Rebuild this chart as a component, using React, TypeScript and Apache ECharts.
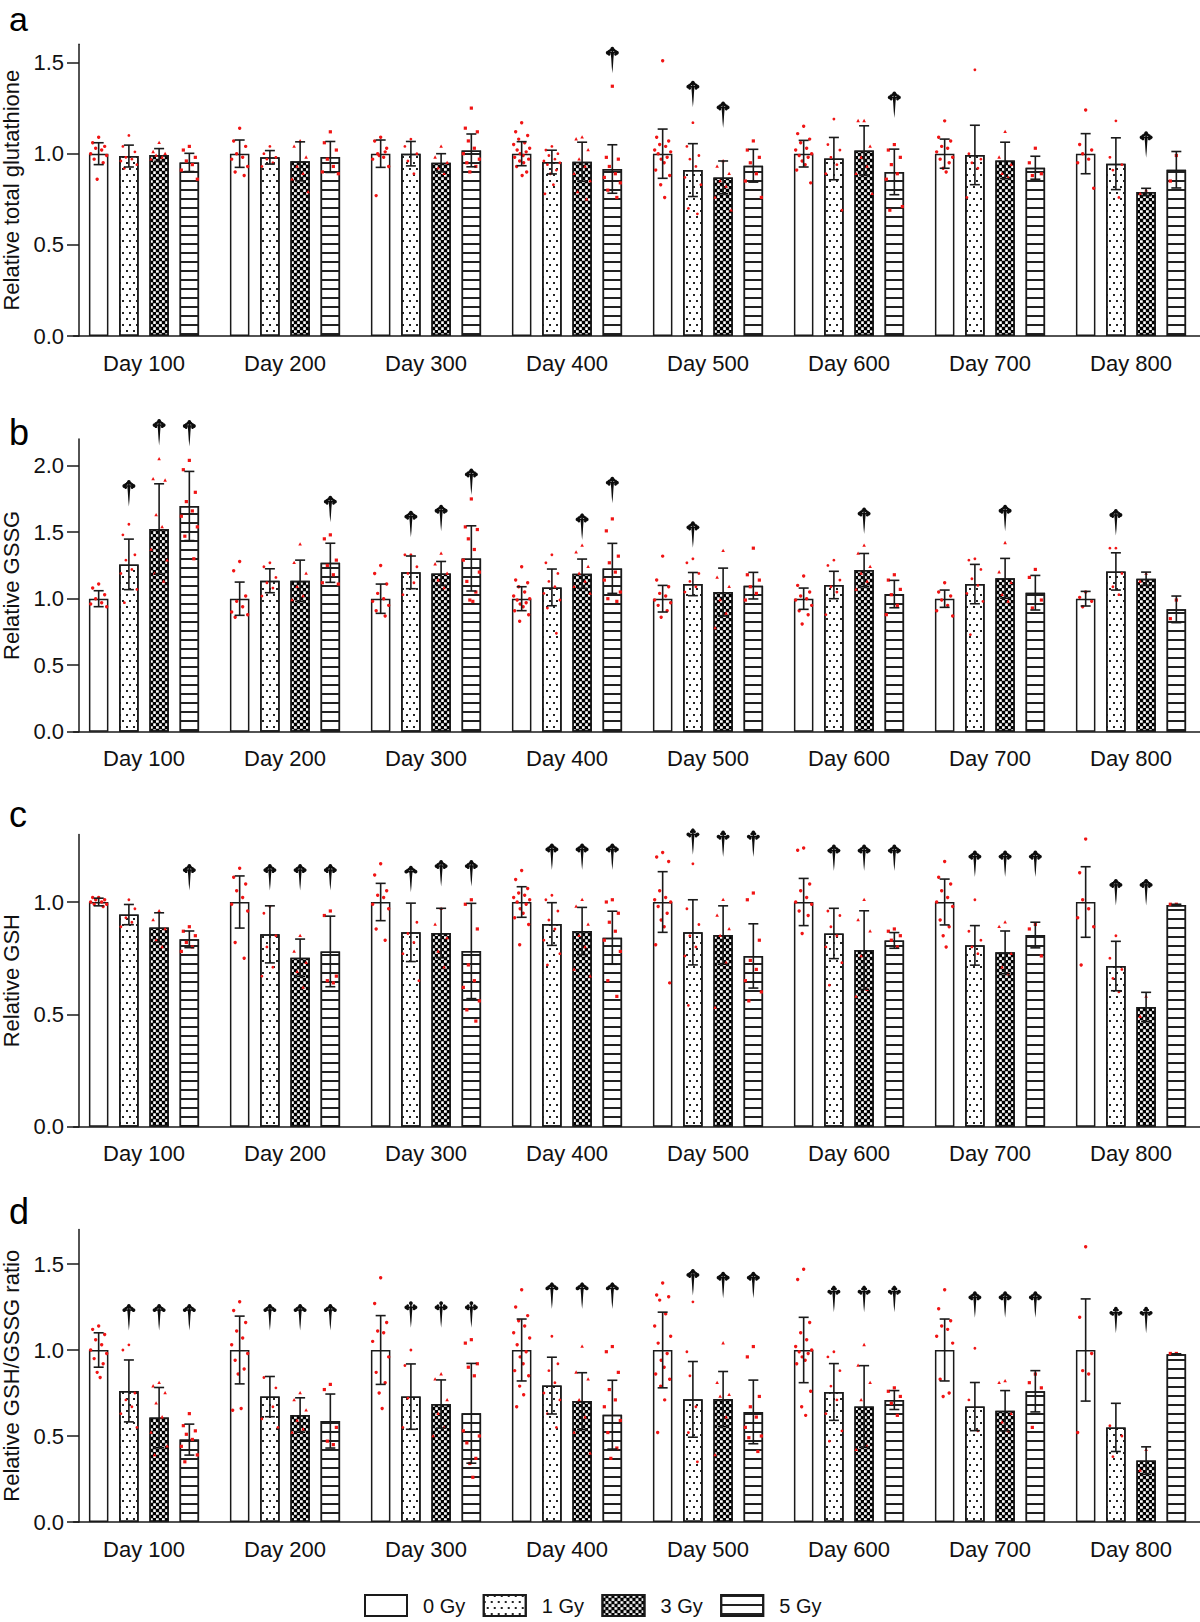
import React, { useEffect, useRef } from "react";
import * as echarts from "echarts";

// ---------------- data ----------------
const days = ["Day 100", "Day 200", "Day 300", "Day 400", "Day 500", "Day 600", "Day 700", "Day 800"];
const doses = ["0 Gy", "1 Gy", "3 Gy", "5 Gy"];

// Panel a: relative total glutathione (mean / SD per dose, 8 days)
const aMean = [
  [1.0, 1.0, 1.0, 1.0, 1.0, 1.0, 1.0, 1.0],
  [0.987, 0.98, 1.0, 0.954, 0.91, 0.973, 0.993, 0.945],
  [0.993, 0.958, 0.95, 0.956, 0.87, 1.018, 0.963, 0.79],
  [0.952, 0.982, 1.018, 0.916, 0.934, 0.9, 0.923, 0.912],
];
const aSD = [
  [0.06, 0.075, 0.075, 0.066, 0.135, 0.073, 0.08, 0.11],
  [0.06, 0.037, 0.067, 0.065, 0.145, 0.116, 0.163, 0.142],
  [0.035, 0.107, 0.05, 0.107, 0.09, 0.135, 0.1, 0.02],
  [0.05, 0.085, 0.09, 0.133, 0.09, 0.125, 0.063, 0.1],
];
const aDots = [
  [
    [1.09, 1.06, 1.04, 1.03, 1.02, 1.0, 0.99, 0.97, 0.95, 0.86],
    [1.14, 1.07, 1.04, 1.0, 0.98, 0.97, 0.93, 0.9, 0.88],
    [1.09, 1.07, 1.03, 1.0, 0.98, 0.97, 0.93, 0.77, 1.01, 0.99],
    [1.17, 1.12, 1.1, 1.08, 1.06, 1.05, 1.03, 1.02, 1.01, 1.0, 0.99, 0.98, 0.97, 0.96, 0.95, 0.93, 0.9, 0.88],
    [1.51, 1.09, 1.07, 1.05, 1.04, 1.02, 1.01, 1.0, 0.98, 0.97, 0.95, 0.91, 0.88, 0.83, 0.76],
    [1.15, 1.11, 1.08, 1.06, 1.03, 1.02, 1.0, 0.99, 0.98, 0.96, 0.94, 0.91, 0.84],
    [1.18, 1.09, 1.07, 1.04, 1.03, 1.01, 0.98, 0.97, 0.95, 0.92, 0.9],
    [1.24, 1.05, 1.02, 1.0, 0.97, 0.95, 0.81],
  ],
  [
    [1.1, 1.04, 1.01, 0.98, 0.97, 0.96, 0.94, 0.92],
    [1.04, 1.0, 0.98, 0.97, 0.95, 0.93],
    [1.08, 1.04, 1.0, 0.96, 0.89],
    [1.04, 1.02, 1.0, 0.99, 0.97, 0.96, 0.95, 0.94, 0.91, 0.89, 0.83, 0.78],
    [1.17, 1.04, 0.99, 0.97, 0.93, 0.87, 0.83, 0.7, 0.67],
    [1.19, 1.05, 1.02, 0.98, 0.94, 0.89, 0.69],
    [1.46, 1.0, 0.97, 0.95, 0.92, 0.76],
    [1.18, 0.98, 0.94, 0.91, 0.76],
  ],
  [
    [1.06, 1.01, 1.0, 0.99, 0.98, 0.97],
    [1.07, 1.04, 0.98, 0.93, 0.89, 0.86, 0.79],
    [1.04, 0.98, 0.95, 0.92, 0.89],
    [1.09, 1.08, 1.02, 0.97, 0.93, 0.89, 0.85, 0.79, 0.75],
    [0.96, 0.93, 0.89, 0.85, 0.82, 0.76, 0.69],
    [1.18, 1.18, 1.04, 0.98, 0.93, 0.89, 0.78],
    [1.12, 0.98, 0.94, 0.89, 0.87],
    [0.8, 0.78],
  ],
  [
    [1.04, 1.02, 0.98, 0.96, 0.94, 0.91, 0.86],
    [1.12, 1.06, 1.02, 0.97, 0.93, 0.9, 0.89],
    [1.25, 1.14, 1.12, 1.07, 1.03, 1.0, 0.97, 0.95, 0.93, 0.9],
    [1.37, 0.98, 0.97, 0.93, 0.89, 0.87, 0.84, 0.8, 0.76],
    [1.07, 1.02, 0.98, 0.95, 0.89, 0.85, 0.76],
    [1.05, 1.02, 0.98, 0.94, 0.89, 0.86, 0.71, 0.69],
    [1.03, 0.95, 0.89, 0.88],
    [0.99, 0.85],
  ],
];
// [day index, dose index, y of the dagger tip]
const aDaggers = [[3, 3, 1.444], [4, 1, 1.258], [4, 2, 1.144], [5, 3, 1.199], [7, 2, 0.98]];

// Panel b: relative GSSG
const bMean = [
  [1.0, 1.0, 1.0, 1.0, 1.0, 1.0, 1.0, 1.0],
  [1.258, 1.135, 1.198, 1.085, 1.11, 1.103, 1.11, 1.205],
  [1.524, 1.135, 1.19, 1.188, 1.05, 1.215, 1.153, 1.15],
  [1.697, 1.27, 1.303, 1.228, 1.098, 1.035, 1.045, 0.92],
];
const bSD = [
  [0.06, 0.125, 0.11, 0.09, 0.1, 0.08, 0.065, 0.055],
  [0.19, 0.09, 0.123, 0.138, 0.087, 0.103, 0.148, 0.14],
  [0.34, 0.155, 0.09, 0.11, 0.18, 0.125, 0.15, 0.05],
  [0.26, 0.147, 0.245, 0.188, 0.1, 0.103, 0.13, 0.1],
];
const bDots = [
  [
    [1.11, 1.08, 1.03, 1.0, 0.97, 0.96, 0.94],
    [1.28, 1.21, 1.02, 0.98, 0.94, 0.9, 0.88, 0.86],
    [1.25, 1.19, 1.11, 1.04, 1.0, 0.98, 0.95, 0.91, 0.87],
    [1.24, 1.14, 1.12, 1.09, 1.05, 1.02, 1.0, 0.99, 0.97, 0.96, 0.94, 0.91, 0.88, 0.83],
    [1.32, 1.14, 1.09, 1.04, 1.02, 0.99, 0.97, 0.95, 0.91, 0.86],
    [1.17, 1.1, 1.05, 1.02, 1.0, 0.99, 0.95, 0.91, 0.88, 0.81],
    [1.12, 1.05, 1.02, 0.99, 0.95, 0.91, 0.87],
    [1.05, 1.01, 0.98, 0.94],
  ],
  [
    [1.56, 1.48, 1.33, 1.29, 1.22, 1.19, 1.07, 0.97],
    [1.27, 1.24, 1.16, 1.12, 1.08, 1.02],
    [1.33, 1.33, 1.24, 1.19, 1.12, 1.03],
    [1.33, 1.27, 1.19, 1.13, 1.09, 1.04, 0.99, 0.93, 0.74],
    [1.3, 1.27, 1.19, 1.13, 1.09, 1.05],
    [1.29, 1.25, 1.14, 1.09, 1.05, 0.88],
    [1.3, 1.29, 1.22, 1.15, 1.1, 1.04, 0.98, 0.73],
    [1.38, 1.38, 1.19, 1.09, 1.03],
  ],
  [
    [2.05, 1.9, 1.89, 1.63, 1.54, 1.37, 1.29, 1.19, 1.13],
    [1.41, 1.27, 1.19, 1.09, 1.02, 0.99],
    [1.34, 1.26, 1.19, 1.14, 1.08],
    [1.4, 1.35, 1.24, 1.19, 1.13, 1.09, 1.04],
    [1.36, 1.16, 1.09, 0.99, 0.89, 0.78],
    [1.4, 1.34, 1.24, 1.19, 1.13, 1.07],
    [1.42, 1.2, 1.12, 1.03, 0.98],
    [1.19, 1.13],
  ],
  [
    [2.04, 1.97, 1.8, 1.73, 1.66, 1.62, 1.54, 1.47, 1.3],
    [1.48, 1.45, 1.29, 1.25, 1.18, 1.12, 1.11],
    [1.75, 1.54, 1.52, 1.45, 1.37, 1.29, 1.2, 1.13, 1.05, 0.99, 0.98],
    [1.6, 1.51, 1.32, 1.27, 1.2, 1.14, 1.05, 1.0, 0.98],
    [1.38, 1.18, 1.14, 1.09, 1.04, 0.99],
    [1.18, 1.14, 1.07, 1.03, 0.95, 0.88],
    [1.22, 1.16, 0.99, 0.93],
    [0.99, 0.85],
  ],
];
const bDaggers = [
  [0, 1, 1.697], [0, 2, 2.155], [0, 3, 2.148], [1, 3, 1.579], [2, 1, 1.466], [2, 2, 1.511], [2, 3, 1.784],
  [3, 2, 1.446], [3, 3, 1.722], [4, 1, 1.386], [5, 2, 1.49], [6, 2, 1.511], [7, 1, 1.479],
];

// Panel c: relative GSH
const cMean = [
  [1.0, 1.0, 1.0, 1.0, 1.0, 1.0, 1.0, 1.0],
  [0.944, 0.856, 0.865, 0.902, 0.865, 0.86, 0.807, 0.715],
  [0.887, 0.752, 0.862, 0.871, 0.853, 0.786, 0.776, 0.533],
  [0.834, 0.78, 0.782, 0.841, 0.76, 0.829, 0.853, 0.987],
];
const cSD = [
  [0.017, 0.116, 0.083, 0.068, 0.135, 0.105, 0.102, 0.157],
  [0.045, 0.127, 0.13, 0.095, 0.145, 0.112, 0.088, 0.11],
  [0.065, 0.083, 0.11, 0.105, 0.13, 0.175, 0.095, 0.065],
  [0.037, 0.157, 0.212, 0.118, 0.143, 0.035, 0.057, 0.003],
];
const cDots = [
  [
    [1.02, 1.02, 1.01, 1.01, 1.0, 1.0, 0.99, 0.99, 0.98],
    [1.15, 1.11, 1.08, 1.05, 1.02, 0.99, 0.96, 0.82, 0.75],
    [1.17, 1.12, 1.05, 1.03, 1.02, 0.99, 0.97, 0.88, 0.83],
    [1.14, 1.1, 1.06, 1.04, 1.03, 1.02, 1.01, 1.0, 0.99, 0.97, 0.95, 0.93, 0.9, 0.81],
    [1.22, 1.2, 1.18, 1.05, 1.02, 1.01, 1.0, 0.98, 0.95, 0.92, 0.89, 0.81, 0.64],
    [1.24, 1.23, 1.08, 1.05, 1.02, 1.0, 0.99, 0.96, 0.94, 0.86, 0.77],
    [1.18, 1.11, 1.08, 1.05, 1.02, 1.0, 0.98, 0.92, 0.89, 0.85, 0.8],
    [1.28, 1.13, 1.07, 1.01, 0.97, 0.93, 0.89, 0.72],
  ],
  [
    [1.01, 0.99, 0.97, 0.93, 0.91, 0.89],
    [0.98, 0.95, 0.85, 0.8, 0.71, 0.67],
    [1.0, 0.99, 0.91, 0.86, 0.82, 0.77, 0.65],
    [1.03, 1.01, 0.96, 0.92, 0.88, 0.83, 0.77, 0.72],
    [1.17, 0.97, 0.9, 0.85, 0.8, 0.76, 0.68, 0.54],
    [1.0, 0.96, 0.94, 0.89, 0.85, 0.8, 0.73, 0.63],
    [1.01, 0.87, 0.83, 0.8, 0.77, 0.68],
    [0.85, 0.75, 0.7, 0.66, 0.6],
  ],
  [
    [0.96, 0.92, 0.88, 0.83, 0.8],
    [0.85, 0.78, 0.73, 0.69, 0.62],
    [0.97, 0.9, 0.84, 0.78, 0.71],
    [1.01, 0.98, 0.9, 0.85, 0.8, 0.7, 0.67],
    [1.01, 0.94, 0.88, 0.85, 0.73, 0.53],
    [1.01, 0.92, 0.87, 0.76, 0.61, 0.58],
    [0.91, 0.89, 0.77, 0.71, 0.68],
    [0.58, 0.49],
  ],
  [
    [0.89, 0.87, 0.85, 0.82, 0.8, 0.78],
    [0.96, 0.94, 0.67, 0.65, 0.64],
    [1.01, 0.99, 0.88, 0.72, 0.65, 0.62, 0.56, 0.52, 0.47],
    [1.01, 1.0, 0.95, 0.91, 0.87, 0.83, 0.78, 0.65, 0.58],
    [1.04, 1.01, 0.83, 0.74, 0.7, 0.65, 0.6, 0.56],
    [0.88, 0.87, 0.85, 0.83, 0.8],
    [0.9, 0.88, 0.76],
    [0.99, 0.99],
  ],
];
const cDaggers = [
  [0, 3, 1.053], [1, 1, 1.053], [1, 2, 1.053], [1, 3, 1.053], [2, 1, 1.046], [2, 2, 1.071], [2, 3, 1.071],
  [3, 1, 1.145], [3, 2, 1.145], [3, 3, 1.145], [4, 1, 1.212], [4, 2, 1.202], [4, 3, 1.202],
  [5, 1, 1.14], [5, 2, 1.14], [5, 3, 1.14], [6, 1, 1.113], [6, 2, 1.113], [6, 3, 1.113], [7, 1, 0.987], [7, 2, 0.987],
];

// Panel d: relative GSH/GSSG ratio
const dMean = [
  [1.0, 1.0, 1.0, 1.0, 1.0, 1.0, 1.0, 1.0],
  [0.762, 0.729, 0.729, 0.793, 0.713, 0.756, 0.671, 0.55],
  [0.607, 0.622, 0.686, 0.703, 0.715, 0.672, 0.647, 0.357],
  [0.479, 0.587, 0.632, 0.624, 0.64, 0.709, 0.76, 0.975],
];
const dSD = [
  [0.1, 0.197, 0.2, 0.18, 0.22, 0.19, 0.18, 0.297],
  [0.18, 0.117, 0.19, 0.165, 0.22, 0.165, 0.14, 0.14],
  [0.175, 0.1, 0.14, 0.165, 0.16, 0.237, 0.117, 0.08],
  [0.09, 0.157, 0.29, 0.2, 0.185, 0.055, 0.12, 0.003],
];
const dDots = [
  [
    [1.14, 1.12, 1.09, 1.06, 1.03, 1.0, 0.98, 0.95, 0.92, 0.87, 0.84],
    [1.28, 1.23, 1.16, 1.11, 1.07, 1.03, 0.98, 0.94, 0.89, 0.86, 0.66, 0.65],
    [1.42, 1.27, 1.16, 1.11, 1.1, 1.05, 0.96, 0.87, 0.81, 0.75, 0.66],
    [1.35, 1.25, 1.2, 1.17, 1.14, 1.1, 1.07, 1.03, 0.99, 0.96, 0.92, 0.88, 0.85, 0.79, 0.74, 0.67],
    [1.39, 1.32, 1.31, 1.29, 1.21, 1.14, 1.08, 1.04, 0.98, 0.94, 0.9, 0.86, 0.83, 0.79, 0.71, 0.52],
    [1.47, 1.41, 1.16, 1.1, 1.06, 1.02, 1.0, 0.99, 0.98, 0.96, 0.94, 0.92, 0.76, 0.67, 0.62],
    [1.35, 1.24, 1.17, 1.14, 1.12, 1.08, 1.04, 0.83, 0.75, 0.73],
    [1.6, 1.19, 0.98, 0.88, 0.86, 0.52],
  ],
  [
    [1.03, 1.0, 0.75, 0.71, 0.67, 0.63, 0.55],
    [0.9, 0.84, 0.78, 0.73, 0.67, 0.6, 0.55],
    [1.0, 0.91, 0.9, 0.72, 0.61, 0.55, 0.46],
    [1.08, 0.98, 0.92, 0.88, 0.81, 0.75, 0.71, 0.63, 0.55],
    [1.28, 0.99, 0.9, 0.85, 0.67, 0.61, 0.57, 0.52, 0.35],
    [0.99, 0.96, 0.88, 0.79, 0.71, 0.63, 0.53, 0.47],
    [1.01, 0.71, 0.69, 0.65, 0.53, 0.46],
    [0.73, 0.56, 0.5, 0.38],
  ],
  [
    [0.81, 0.79, 0.75, 0.69, 0.61, 0.52, 0.44, 0.39],
    [0.75, 0.71, 0.65, 0.59, 0.54, 0.52],
    [0.86, 0.83, 0.71, 0.63, 0.55, 0.5],
    [1.02, 0.87, 0.83, 0.71, 0.61, 0.52, 0.4],
    [1.04, 0.81, 0.74, 0.73, 0.61, 0.39],
    [1.03, 0.91, 0.81, 0.71, 0.44, 0.42],
    [0.82, 0.81, 0.63, 0.58, 0.53],
    [0.42, 0.3],
  ],
  [
    [0.63, 0.56, 0.53, 0.51, 0.48, 0.44, 0.39, 0.35],
    [0.8, 0.77, 0.55, 0.47, 0.45],
    [1.06, 1.04, 0.92, 0.9, 0.85, 0.53, 0.5, 0.46, 0.37, 0.34, 0.26],
    [1.02, 0.99, 0.87, 0.77, 0.71, 0.67, 0.59, 0.52, 0.43, 0.37],
    [1.02, 0.96, 0.73, 0.67, 0.61, 0.55, 0.5, 0.49, 0.41],
    [0.78, 0.76, 0.73, 0.69, 0.62],
    [0.86, 0.81, 0.78, 0.55],
    [0.98, 0.98],
  ],
];
const dDaggers = [
  [0, 1, 1.116], [0, 2, 1.116], [0, 3, 1.116], [1, 1, 1.116], [1, 2, 1.116], [1, 3, 1.116],
  [2, 1, 1.132], [2, 2, 1.132], [2, 3, 1.132], [3, 1, 1.242], [3, 2, 1.242], [3, 3, 1.242],
  [4, 1, 1.32], [4, 2, 1.304], [4, 3, 1.304], [5, 1, 1.223], [5, 2, 1.223], [5, 3, 1.223],
  [6, 1, 1.19], [6, 2, 1.19], [6, 3, 1.19], [7, 1, 1.1], [7, 2, 1.1],
];

const yTicksA = [0, 0.5, 1, 1.5];
const yTicksB = [0, 0.5, 1, 1.5, 2];
const yTicksC = [0, 0.5, 1];
const yTicksD = [0, 0.5, 1, 1.5];

// ---------------- layout / style ----------------
const FONT = "'Liberation Sans', Arial, Helvetica, sans-serif";
const INK = "#1a1a1a";
const RED = "#f01414";
const BAR_W = 19.5;
const STEP = BAR_W * 1.55;
const JITTER = [0, -6, 6, -3, 3, -8, 8, -4.5, 4.5, -1.5, 1.5, -7, 7, -2, 2, -5, 5, 0.5];

const panels = [
  { letter: "a", name: "Relative total glutathione", max: 1.6, ticks: yTicksA, top: 44.3, height: 291.7, mean: aMean, sd: aSD, dots: aDots, daggers: aDaggers, letterTop: 2 },
  { letter: "b", name: "Relative GSSG", max: 2.2, ticks: yTicksB, top: 439.1, height: 292.6, mean: bMean, sd: bSD, dots: bDots, daggers: bDaggers, letterTop: 414 },
  { letter: "c", name: "Relative GSH", max: 1.3, ticks: yTicksC, top: 834.6, height: 292.1, mean: cMean, sd: cSD, dots: cDots, daggers: cDaggers, letterTop: 796 },
  { letter: "d", name: "Relative GSH/GSSG ratio", max: 1.7, ticks: yTicksD, top: 1229.6, height: 292.4, mean: dMean, sd: dSD, dots: dDots, daggers: dDaggers, letterTop: 1193 },
];

const DECALS: any[] = [
  null,
  { symbol: "rect", symbolSize: 1, color: "#222222", backgroundColor: "#ffffff", dashArrayX: [[1.3, 4.7], [0, 3, 1.3, 1.7]], dashArrayY: [1.3, 3.2] },
  { symbol: "rect", symbolSize: 1.15, color: "#000000", backgroundColor: "#ffffff", dashArrayX: [[3, 3], [0, 3, 3, 0]], dashArrayY: [3, 0] },
  { symbol: "rect", symbolSize: 1, color: "#222222", backgroundColor: "#ffffff", dashArrayX: [1, 0], dashArrayY: [2, 7] },
];

// dagger (cross with trefoil ends and long tapered stem), local box 13 x 26
const DAGGER_CIRCLES = [
  [6.5, 1.9, 1.9], [4.9, 3.3, 1.4], [8.1, 3.3, 1.4],
  [1.9, 6, 1.9], [3.3, 4.4, 1.4], [3.3, 7.6, 1.4],
  [11.1, 6, 1.9], [9.7, 4.4, 1.4], [9.7, 7.6, 1.4],
];
const DAGGER_STEM = [[4.9, 6.2], [8.1, 6.2], [7.6, 12], [7.1, 20], [6.5, 26.5], [5.9, 20], [5.4, 12]];

function renderDot(params: any, api: any) {
  const di = api.value(0);
  const v = api.value(1);
  const k = api.value(2);
  const j = api.value(3);
  const pt = api.coord([di, v]);
  const x = pt[0] + (k - 1.5) * STEP + JITTER[j % JITTER.length];
  const y = pt[1];
  const style = { fill: RED };
  if (k === 0) return { type: "circle", shape: { cx: x, cy: y, r: 1.7 }, style };
  if (k === 1) return { type: "circle", shape: { cx: x, cy: y, r: 1.4 }, style };
  if (k === 2) return { type: "polygon", shape: { points: [[x, y - 2], [x + 1.8, y + 1.3], [x - 1.8, y + 1.3]] }, style };
  return { type: "rect", shape: { x: x - 1.6, y: y - 1.6, width: 3.2, height: 3.2 }, style };
}

function renderErr(params: any, api: any) {
  const di = api.value(0);
  const m = api.value(1);
  const s = api.value(2);
  const k = api.value(3);
  const t = api.coord([di, m + s]);
  const b = api.coord([di, m - s]);
  const x = t[0] + (k - 1.5) * STEP;
  const st = { stroke: INK, lineWidth: 1.6 };
  return {
    type: "group",
    children: [
      { type: "line", shape: { x1: x, y1: t[1], x2: x, y2: b[1] }, style: st },
      { type: "line", shape: { x1: x - 5, y1: t[1], x2: x + 5, y2: t[1] }, style: st },
      { type: "line", shape: { x1: x - 5, y1: b[1], x2: x + 5, y2: b[1] }, style: st },
    ],
  };
}

function renderDagger(params: any, api: any) {
  const di = api.value(0);
  const k = api.value(1);
  const tip = api.value(2);
  const pt = api.coord([di, tip]);
  const x0 = pt[0] + (k - 1.5) * STEP - 6.5;
  const y0 = pt[1] - 26;
  const fill = { fill: "#0d0d0d" };
  const children: any[] = DAGGER_CIRCLES.map((c) => ({
    type: "circle",
    shape: { cx: x0 + c[0], cy: y0 + c[1], r: c[2] },
    style: fill,
  }));
  children.push({ type: "rect", shape: { x: x0 + 2.5, y: y0 + 5.2, width: 8, height: 1.6 }, style: fill });
  children.push({ type: "rect", shape: { x: x0 + 5.7, y: y0 + 2.5, width: 1.6, height: 5.5 }, style: fill });
  children.push({
    type: "polygon",
    shape: { points: DAGGER_STEM.map((p) => [x0 + p[0], y0 + p[1]]) },
    style: fill,
  });
  return { type: "group", children };
}

function buildOption() {
  const grid: any[] = [];
  const xAxis: any[] = [];
  const yAxis: any[] = [];
  const series: any[] = [];
  const graphic: any[] = [];

  panels.forEach((p, gi) => {
    grid.push({ left: 73.5, width: 1128, top: p.top, height: p.height, containLabel: false, outerBoundsMode: "none" });
    xAxis.push({
      type: "category",
      gridIndex: gi,
      data: days,
      axisLine: { lineStyle: { color: INK, width: 1.5 } },
      axisTick: { alignWithLabel: true, length: 12, lineStyle: { color: INK, width: 1.5 } },
      axisLabel: { fontSize: 22, color: "#111", margin: 16, fontFamily: FONT },
      splitLine: { show: false },
    });
    yAxis.push({
      type: "value",
      gridIndex: gi,
      min: 0,
      max: p.max,
      offset: -5.5,
      axisLine: { show: true, lineStyle: { color: INK, width: 1.5 } },
      axisTick: { show: true, length: 12, customValues: p.ticks, lineStyle: { color: INK, width: 1.5 } },
      axisLabel: { customValues: p.ticks, formatter: (v: number) => v.toFixed(1), fontSize: 22, color: "#111", margin: 15, fontFamily: FONT },
      splitLine: { show: false },
      name: p.name,
      nameLocation: "middle",
      nameGap: 56,
      nameTextStyle: { fontSize: 22, color: "#111", fontFamily: FONT },
    });

    doses.forEach((d, k) => {
      const itemStyle: any = { color: "#ffffff", borderColor: INK, borderWidth: 1.5 };
      if (DECALS[k]) itemStyle.decal = DECALS[k];
      series.push({
        type: "bar",
        name: d,
        xAxisIndex: gi,
        yAxisIndex: gi,
        data: p.mean[k],
        barWidth: BAR_W,
        barGap: "55%",
        itemStyle,
        silent: true,
        z: 2,
      });
    });

    const dotData: number[][] = [];
    p.dots.forEach((byDay, k) =>
      byDay.forEach((vals, di) => vals.forEach((v, j) => dotData.push([di, v, k, j])))
    );
    series.push({
      type: "custom",
      xAxisIndex: gi,
      yAxisIndex: gi,
      data: dotData,
      encode: { x: 0, y: 1 },
      renderItem: renderDot,
      silent: true,
      z: 3,
    });

    const errData: number[][] = [];
    p.mean.forEach((row, k) => row.forEach((m, di) => errData.push([di, m, p.sd[k][di], k])));
    series.push({
      type: "custom",
      xAxisIndex: gi,
      yAxisIndex: gi,
      data: errData,
      encode: { x: 0, y: 1 },
      renderItem: renderErr,
      silent: true,
      z: 4,
    });

    series.push({
      type: "custom",
      xAxisIndex: gi,
      yAxisIndex: gi,
      data: p.daggers,
      encode: { x: 0, y: 2 },
      renderItem: renderDagger,
      silent: true,
      z: 4,
    });

    graphic.push({
      type: "text",
      left: 9,
      top: p.letterTop,
      style: { text: p.letter, font: `${gi === 0 ? 34 : 36}px ${FONT}`, fill: "#000" },
    });
  });

  return {
    animation: false,
    backgroundColor: "#ffffff",
    textStyle: { fontFamily: FONT },
    grid,
    xAxis,
    yAxis,
    series,
    graphic,
    legend: {
      show: true,
      data: doses,
      left: 364,
      top: 1594,
      padding: 0,
      itemWidth: 42,
      itemHeight: 21,
      itemGap: 17.5,
      icon: "rect",
      selectedMode: false,
      textStyle: { fontSize: 20, color: "#111", fontFamily: FONT, padding: [0, 0, 0, 11] },
    },
  };
}

export default function App() {
  const ref = useRef<HTMLDivElement>(null);
  useEffect(() => {
    if (!ref.current) return;
    const chart = echarts.init(ref.current, null, { renderer: "svg", width: 1200, height: 1622 });
    chart.setOption(buildOption() as any);
    return () => chart.dispose();
  }, []);
  return (
    <div
      ref={ref}
      style={{ position: "absolute", left: 0, top: 0, width: 1200, height: 1622, background: "#ffffff" }}
    />
  );
}
